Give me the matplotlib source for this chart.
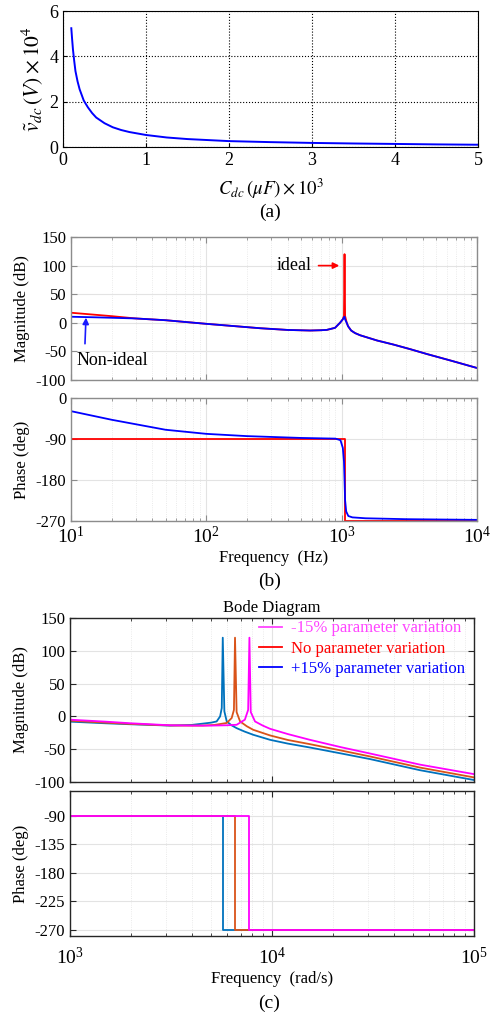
import matplotlib
matplotlib.use("Agg")
import matplotlib.pyplot as plt
from matplotlib.lines import Line2D
from matplotlib.ticker import LogLocator, NullFormatter

plt.rcParams["font.family"] = ["Liberation Serif", "DejaVu Serif"]
plt.rcParams["mathtext.fontset"] = "stix"
plt.rcParams["axes.unicode_minus"] = False
plt.rcParams["font.size"] = 11

# (a) dc-link ripple vs capacitance
cdc = [0.1, 0.11, 0.12, 0.135, 0.15, 0.175, 0.2, 0.25, 0.3, 0.35, 0.4, 0.5, 0.6, 0.7, 0.8,
       1.0, 1.25, 1.5, 2.0, 2.5, 3.0, 3.5, 4.0, 4.5, 5.0]
vdc = [5.24, 4.75, 4.3, 3.8, 3.35, 2.9, 2.55, 2.05, 1.75, 1.5, 1.3, 1.05, 0.87, 0.75, 0.66,
       0.53, 0.42, 0.35, 0.26, 0.215, 0.18, 0.155, 0.135, 0.115, 0.1]

# (b) bode, ideal vs non-ideal (Hz)
f_mag = [10, 15, 20, 30, 50, 100, 250, 400, 585, 700, 776, 893, 972, 1018, 1040, 1050, 1060,
         1090, 1115, 1175, 1256, 1370, 1830, 2410, 3200, 4250, 6500, 10000]
mag_ideal = [17.6, 14.1, 11.6, 7.6, 4.5, -1.8, -9.5, -12.5, -13.5, -13, -12.4, -8.8, 0, 5.9, 12, 120, 12,
             0, -6, -13.5, -18, -21.8, -31, -38, -46, -54.5, -66.5, -79]
mag_nonideal = [10.6, 9.6, 8.8, 7.6, 4.5, -1.8, -9.5, -12.5, -13.5, -13, -12.4, -8.8, 0, 5.9, 9.5, 10.6, 6,
                0, -6, -13.5, -18, -21.8, -31, -38, -46, -54.5, -66.5, -79]

f_ph_ideal = [10, 1050, 1050, 10000]
ph_ideal = [-90, -90, -270, -270]
f_ph_nonideal = [10, 20, 50, 100, 200, 500, 900, 980, 1020, 1040, 1050, 1060, 1080, 1120, 1200, 1500, 3000, 10000]
ph_nonideal = [-29, -48, -70, -79, -84, -88, -89.5, -93, -110, -140, -180, -225, -250, -260, -263, -265, -267, -268.5]

# (c) bode with parameter variation (rad/s)
w_minus = [1000, 1500, 2000, 3125, 4000, 5000, 6000, 6680, 7340, 7620, 7730, 7850, 8240, 9000, 9780,
           12000, 15400, 22000, 30500, 54000, 100000]
mag_minus = [-5, -8, -10.5, -13.5, -14, -14, -13.5, -12.8, -5, 10, 120, 6.6, -7.7, -14, -18.9,
             -27, -35.7, -47, -56.5, -73.5, -88]
w_nom = [1000, 1500, 2000, 3125, 4000, 4550, 5200, 5970, 6315, 6480, 6560, 6680, 6950, 7500, 8070,
         9780, 12000, 15400, 22000, 30500, 54000, 100000]
mag_nom = [-6.5, -9.5, -11.5, -13.8, -14, -14, -13, -10, -2.5, 10, 120, 6.6, -7.7, -15, -20.4,
           -29, -36, -42.3, -52, -61, -78, -93]
w_plus = [1000, 1500, 2000, 3125, 4000, 4550, 5000, 5320, 5535, 5640, 5705, 5810, 5970, 6300, 6680,
          7300, 8070, 9780, 12000, 15400, 22000, 30500, 54000, 100000]
mag_plus = [-8, -10.5, -12, -14, -13, -11, -9.5, -7.7, 0, 12.8, 120, 7.7, -7.7, -13.5, -17.9,
            -23, -28, -35.7, -41.5, -47.4, -56.5, -65, -82, -97]

w_ph_minus = [1000, 7730, 7730, 100000]
w_ph_nom = [1000, 6560, 6560, 100000]
w_ph_plus = [1000, 5705, 5705, 100000]
ph_step = [-90, -90, -270, -270]

legend_labels = ["-15% parameter variation", "No parameter variation", "+15% parameter variation"]

W, H = 493, 1015


def box(left, top, right, bottom):
    return [left / W, 1 - bottom / H, (right - left) / W, (bottom - top) / H]


def matlab_log_axes(ax, spine_color):
    ax.set_xscale("log")
    ax.xaxis.set_minor_locator(LogLocator(base=10, subs=range(2, 10)))
    ax.xaxis.set_minor_formatter(NullFormatter())
    ax.grid(True, which="major", color="#e3e3e3", lw=0.8)
    ax.grid(True, which="minor", axis="x", color="#e3e3e3", lw=0.6, ls=":")
    ax.tick_params(which="both", direction="in", top=True, right=True, color=spine_color)
    ax.tick_params(which="major", length=4, labelsize=12)
    ax.tick_params(which="minor", length=2.5)
    for s in ax.spines.values():
        s.set_color(spine_color)
        s.set_linewidth(1.0)
    ax.set_axisbelow(True)


fig = plt.figure(figsize=(W / 100, H / 100), dpi=100)

# ---- (a)
ax_a = fig.add_axes(box(63, 11, 478, 147))
ax_a.plot(cdc, vdc, color="#0000ff", lw=1.4)
ax_a.set_xlim(0, 5)
ax_a.set_ylim(0, 6)
ax_a.set_yticks([0, 2, 4, 6])
ax_a.grid(True, color="k", ls=":", lw=0.8)
ax_a.tick_params(direction="in", labelsize=13, length=3)
ax_a.set_xlabel(r"$C_{dc}\,\left(\mu F\right)\times10^3$", fontsize=13.5, labelpad=6)
ax_a.set_ylabel(r"$\tilde{v}_{dc}\,\left(V\right)\times10^4$", fontsize=15.5, labelpad=2)
fig.text(270 / W, 1 - 212 / H, "(a)", ha="center", va="center", fontsize=14)

# ---- (b)
gray = "#8c8c8c"
ax_bm = fig.add_axes(box(71, 237, 477, 380))
ax_bm.plot(f_mag, mag_ideal, color="#ff0000", lw=1.3)
ax_bm.plot(f_mag, mag_nonideal, color="#0000ff", lw=1.3)
matlab_log_axes(ax_bm, gray)
ax_bm.set_xlim(10, 10000)
ax_bm.set_ylim(-100, 150)
ax_bm.set_yticks([-100, -50, 0, 50, 100, 150])
ax_bm.tick_params(labelbottom=False)
ax_bm.set_ylabel("Magnitude (dB)", fontsize=12)
ax_bm.annotate("ideal", xy=(960, 100), xytext=(445, 100), ha="center", va="center", fontsize=13,
               arrowprops=dict(arrowstyle="-|>", color="#ff0000", lw=1.2, mutation_scale=9, shrinkA=3, shrinkB=0))
ax_bm.annotate("Non-ideal", xy=(12.9, 9), xytext=(10.9, -66), ha="left", va="center", fontsize=13,
               arrowprops=dict(arrowstyle="-|>", color="#1a1aff", lw=1.2, mutation_scale=9,
                               relpos=(0.12, 1.0), shrinkA=4, shrinkB=0))

ax_bp = fig.add_axes(box(71, 398, 477, 521))
ax_bp.plot(f_ph_ideal, ph_ideal, color="#ff0000", lw=1.3)
ax_bp.plot(f_ph_nonideal, ph_nonideal, color="#0000ff", lw=1.3)
matlab_log_axes(ax_bp, gray)
ax_bp.set_xlim(10, 10000)
ax_bp.set_ylim(-271, 0)
ax_bp.set_yticks([-270, -180, -90, 0])
ax_bp.set_ylabel("Phase (deg)", fontsize=12)
ax_bp.set_xlabel("Frequency  (Hz)", fontsize=12, labelpad=2)
ax_bp.tick_params(axis="x", labelsize=14)
fig.text(270 / W, 1 - 581 / H, "(b)", ha="center", va="center", fontsize=14)

# ---- (c)
ax_cm = fig.add_axes(box(70, 618, 474, 782))
ax_cm.plot(w_plus, mag_plus, color="#0072bd", lw=1.3)
ax_cm.plot(w_nom, mag_nom, color="#d95319", lw=1.3)
ax_cm.plot(w_minus, mag_minus, color="#ff00ff", lw=1.3)
matlab_log_axes(ax_cm, "#262626")
ax_cm.set_xlim(1000, 100000)
ax_cm.set_ylim(-100, 150)
ax_cm.set_yticks([-100, -50, 0, 50, 100, 150])
ax_cm.tick_params(labelbottom=False)
ax_cm.set_ylabel("Magnitude (dB)", fontsize=12)
ax_cm.set_title("Bode Diagram", fontsize=12, pad=4)
leg_colors = ["#ff44ff", "#ff0000", "#0000ff"]
handles = [Line2D([], [], color=c, lw=1.3) for c in leg_colors]
ax_cm.legend(handles, legend_labels, loc="upper left", bbox_to_anchor=(0.468, 0.985),
             frameon=False, fontsize=12, handlelength=1.4, handletextpad=0.5,
             labelspacing=0.25, borderpad=0, borderaxespad=0, labelcolor=leg_colors)

ax_cp = fig.add_axes(box(70, 791, 474, 936))
ax_cp.plot(w_ph_plus, ph_step, color="#0072bd", lw=1.3)
ax_cp.plot(w_ph_nom, ph_step, color="#d95319", lw=1.3)
ax_cp.plot(w_ph_minus, ph_step, color="#ff00ff", lw=1.3)
matlab_log_axes(ax_cp, "#262626")
ax_cp.set_xlim(1000, 100000)
ax_cp.set_ylim(-280, -51)
ax_cp.set_yticks([-270, -225, -180, -135, -90])
ax_cp.set_ylabel("Phase (deg)", fontsize=12)
ax_cp.set_xlabel("Frequency  (rad/s)", fontsize=12, labelpad=2)
ax_cp.tick_params(axis="x", labelsize=14, pad=8)
fig.text(269 / W, 1 - 1003 / H, "(c)", ha="center", va="center", fontsize=14)

fig.savefig("out.png", dpi=100)
